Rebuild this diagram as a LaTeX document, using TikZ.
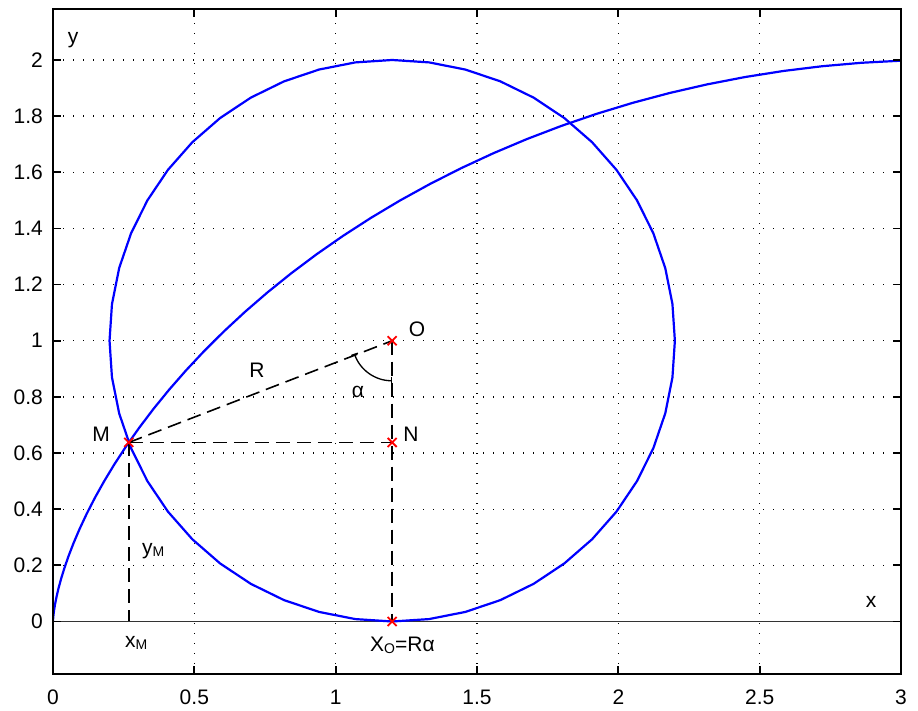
\documentclass[tikz,border=0pt]{standalone}
\usepackage{fontspec}
\setmainfont{Liberation Sans}
\usetikzlibrary{arrows.meta}
\definecolor{mblue}{RGB}{0,0,255}
\definecolor{mred}{RGB}{255,0,0}
\newcommand{\subM}[1]{\raisebox{-1.5pt}{\fontsize{14}{14}\selectfont #1}}
\tikzset{
  box/.style={line width=2pt, black},
  gridline/.style={line width=1.3pt, black, dash pattern=on 1.2pt off 8.8pt},
  tickmark/.style={line width=1.8pt, black},
  curve/.style={line width=2.2pt, mblue, line join=round},
  guide/.style={line width=1.6pt, black, dash pattern=on 14pt off 7pt},
  lbl/.style={inner sep=0pt, font=\fontsize{21}{24}\selectfont},
  xm/.style={mred, line width=1.8pt},
}
\newcommand{\xmark}[1]{\draw[xm] ([shift={(-4.5pt,-4.5pt)}]#1) -- ([shift={(4.5pt,4.5pt)}]#1) ([shift={(-4.5pt,4.5pt)}]#1) -- ([shift={(4.5pt,-4.5pt)}]#1);}
\begin{document}
\begin{tikzpicture}[x=282.67pt, y=280.75pt]
\useasboundingbox[fill=white] (-0.1875,-0.3188) rectangle (3.0601,2.2137);
\def\ybot{-0.187}
\def\ytop{2.18}
% grid
\foreach \gx in {0.5,1,1.5,2,2.5} \draw[gridline] (\gx,\ybot) -- (\gx,\ytop);
\foreach \gy in {0.2,0.4,0.6,0.8,1,1.2,1.4,1.6,1.8,2} \draw[gridline] (0,\gy) -- (3,\gy);
% x axis line
\draw[line width=1.2pt, black!80] (0,0) -- (3,0);
% coordinates
\coordinate (O) at (1.2,1);
\coordinate (M) at ({1.2-sin(1.2 r)},{1-cos(1.2 r)});
\coordinate (N) at (1.2,{1-cos(1.2 r)});
\coordinate (X) at (1.2,0);
\coordinate (Mx) at ({1.2-sin(1.2 r)},0);
% curves
\begin{scope}
\clip (0,\ybot) rectangle (3,\ytop);
\draw[curve] plot[domain=0:3.0705, samples=45, variable=\t] ({\t - sin(\t r)}, {1 - cos(\t r)});
\draw[curve] plot[domain=0:360, samples=49, variable=\a] ({1.2+cos(\a)}, {1+sin(\a)}) -- cycle;
\end{scope}
% guides
\draw[guide] (M) -- (O);
\draw[guide] (M) -- (N);
\draw[guide] (O) -- (X);
\draw[guide] (M) -- (Mx);
\draw[line width=1.3pt, black, {Bar[width=7pt]}-{Bar[width=7pt]}] ([shift={(198.9:40pt)}]O) arc[start angle=198.9, end angle=270, radius=40pt];
% markers
\xmark{O}
\xmark{N}
\xmark{M}
\xmark{X}
% box and ticks
\draw[box] (0,\ybot) rectangle (3,\ytop);
\foreach \gx in {0,0.5,1,1.5,2,2.5,3} {
  \draw[tickmark] (\gx,\ybot) -- ++(0,8pt);
  \draw[tickmark] (\gx,\ytop) -- ++(0,-8pt);
}
\foreach \gy in {0,0.2,0.4,0.6,0.8,1,1.2,1.4,1.6,1.8,2} {
  \draw[tickmark] (0,\gy) -- ++(8pt,0);
  \draw[tickmark] (3,\gy) -- ++(-8pt,0);
}
% tick labels
\foreach \gx/\t in {0/0,0.5/0.5,1/1,1.5/1.5,2/2,2.5/2.5,3/3}
  \node[lbl, anchor=base] (tx\t) at (\gx,-0.2939) {\t};
\foreach \gy/\t in {0/0,0.2/0.2,0.4/0.4,0.6/0.6,0.8/0.8,1/1,1.2/1.2,1.4/1.4,1.6/1.6,1.8/1.8,2/2}
  \node[lbl, anchor=east] (ty\t) at (-0.0354,\gy) {\t};
% labels
\node[lbl, anchor=base] (ly) at (0.0708,2.0570) {y};
\node[lbl, anchor=base] (lx) at (2.894,0.0516) {x};
\node[lbl, anchor=base] (lO) at (1.2877,1.0134) {O};
\node[lbl, anchor=base] (lR) at (0.7217,0.8673) {R};
\node[lbl, anchor=base] (la) at (1.0790,0.7996) {α};
\node[lbl, anchor=base] (lM) at (0.1698,0.6394) {M};
\node[lbl, anchor=base] (lN) at (1.2665,0.6394) {N};
\node[lbl, anchor=base west] (lyM) at (0.3149,0.2369) {y\subM{M}};
\node[lbl, anchor=base west] (lxM) at (0.2547,-0.0944) {x\subM{M}};
\node[lbl, anchor=base west] (lXO) at (1.1214,-0.1086) {X\subM{O}=Rα};
\end{tikzpicture}
\end{document}
